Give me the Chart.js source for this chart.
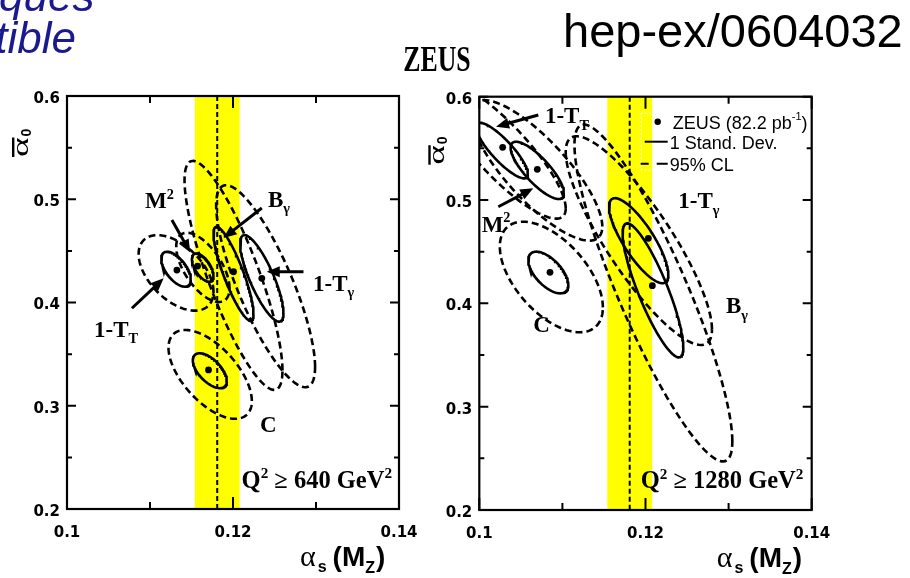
<!DOCTYPE html>
<html><head><meta charset="utf-8">
<script src="https://cdn.jsdelivr.net/npm/chart.js@4/dist/chart.umd.min.js"></script>
<style>
html,body{margin:0;padding:0;background:#fff}
body{width:910px;height:578px;position:relative;overflow:hidden}
canvas{position:absolute;top:0}
#c1{left:0}
#c2{left:420px}
#hdr{left:0;pointer-events:none}
</style></head>
<body>
<canvas id="c1" width="420" height="578" style="width:420px;height:578px"></canvas>
<canvas id="c2" width="490" height="578" style="width:490px;height:578px"></canvas>
<canvas id="hdr" width="910" height="578" style="width:910px;height:578px"></canvas>
<script>
// ---------------- data ----------------
const xTickLabels = [0.10, 0.12, 0.14];
const yTickLabels = [0.2, 0.3, 0.4, 0.5, 0.6];
const methods = ["1-T_T", "M²", "B_γ", "1-T_γ", "C"];
// world average alpha_s band and central value
const bandLow = 0.1154, bandHigh = 0.1208, worldAvg = 0.1181;

// Q² ≥ 640 GeV² : fitted points (order as in methods)
const as640 = [0.11324, 0.11573, 0.12006, 0.12347, 0.11705];
const a0640 = [0.4314, 0.4353, 0.4298, 0.4234, 0.3347];
// contours: [centre alpha_s, centre alpha0, half-width alpha_s, half-height alpha0, correlation]
const sd640 = [
  [0.11314, 0.43223, 0.00179, 0.01692, -0.60],
  [0.11635, 0.43384, 0.00130, 0.01370, -0.60],
  [0.12006, 0.42788, 0.00241, 0.04545, -0.85],
  [0.12347, 0.42337, 0.00261, 0.04190, -0.80],
  [0.11721, 0.33393, 0.00205, 0.01692, -0.60]];
const cl640 = [
  [0.11314, 0.42869, 0.00451, 0.03658, -0.50],
  [0.11637, 0.43400, 0.00321, 0.03352, -0.60],
  [0.12006, 0.42627, 0.00590, 0.11088, -0.83],
  [0.12393, 0.41579, 0.00596, 0.09782, -0.80],
  [0.11725, 0.33038, 0.00502, 0.04303, -0.60]];

// Q² ≥ 1280 GeV²
const as1280 = [0.10281, 0.10698, 0.12082, 0.12034, 0.10851];
const a01280 = [0.5510, 0.5297, 0.4171, 0.4629, 0.4300];
const sd1280 = [
  [0.10273, 0.5479, 0.00313, 0.0269, -0.85],
  [0.10698, 0.5287, 0.00321, 0.0277, -0.80],
  [0.12090, 0.41258, 0.00365, 0.06484, -0.85],
  [0.11918, 0.46065, 0.00357, 0.04113, -0.80],
  [0.10830, 0.42984, 0.00241, 0.02016, -0.60]];
const cl1280 = [
  [0.10270, 0.5480, 0.0077, 0.0660, -0.85],
  [0.10690, 0.5287, 0.0079, 0.0680, -0.80],
  [0.12095, 0.4100, 0.0095, 0.1630, -0.88],
  [0.11920, 0.4607, 0.0088, 0.1010, -0.85],
  [0.10867, 0.4255, 0.0062, 0.0535, -0.55]];

// annotation labels (data coordinates of text anchor)
const labels640 = [
  {parts:[{t:'M'},{t:'2',sup:1}], x:0.1094, y:0.4913},
  {parts:[{t:'B'},{t:'γ',sub:1}], x:0.12422, y:0.4928},
  {parts:[{t:'1-T'},{t:'γ',sub:1}], x:0.12964, y:0.4115},
  {parts:[{t:'1-T'},{t:'T',sub:1}], x:0.10325, y:0.3669},
  {parts:[{t:'C'}], x:0.12325, y:0.2749},
  {parts:[{t:'Q'},{t:'2',sup:1},{t:' ≥ 640 GeV'},{t:'2',sup:1}], x:0.13916, y:0.2201, right:1, big:1}];
const labels1280 = [
  {parts:[{t:'1-T'},{t:'T',sub:1}], x:0.1079, y:0.5742},
  {parts:[{t:'M'},{t:'2',sup:1}], x:0.10028, y:0.4694},
  {parts:[{t:'C'}], x:0.1065, y:0.3726},
  {parts:[{t:'1-T'},{t:'γ',sub:1}], x:0.12395, y:0.4919},
  {parts:[{t:'B'},{t:'γ',sub:1}], x:0.12969, y:0.3903},
  {parts:[{t:'Q'},{t:'2',sup:1},{t:' ≥ 1280 GeV'},{t:'2',sup:1}], x:0.1390, y:0.2210, right:1, big:1}];
// arrows [from x, from y, to x, to y]
const arrows640 = [[0.11264,0.4798,0.11485,0.4485],[0.12347,0.4915,0.11886,0.4625],
                   [0.12849,0.4298,0.12407,0.4298],[0.10782,0.3944,0.11164,0.4234]];
const arrows1280 = [[0.1071,0.5823,0.10201,0.5710],[0.10229,0.4935,0.10650,0.5113]];

// ---------------- helpers ----------------
function contour(e){
  const [cx,cy,sx,sy,r]=e, q=Math.sqrt(1-r*r), pts=[];
  for(let i=0;i<=144;i++){const t=2*Math.PI*i/144;
    pts.push({x:cx+sx*Math.cos(t), y:cy+sy*(r*Math.cos(t)+q*Math.sin(t))});}
  return pts;
}
const SERIF='"Liberation Serif","Times New Roman",serif';
const SANS='"Liberation Sans",Arial,sans-serif';
function richWidth(ctx, parts, size, fam, wt){
  let w=0; for(const p of parts){const s=(p.sub||p.sup)?size*0.62:size;
    ctx.font=`${wt} ${s}px ${fam}`; w+=ctx.measureText(p.t).width;} return w;
}
function rich(ctx, x, y, parts, size, fam, wt){
  let cx=x;
  for(const p of parts){
    const s=(p.sub||p.sup)?size*0.62:size;
    ctx.font=`${wt} ${s}px ${fam}`;
    const dy=p.sub?size*0.28:(p.sup?-size*0.40:0);
    ctx.fillText(p.t,cx,y+dy); cx+=ctx.measureText(p.t).width;
  }
  return cx;
}
function arrow(ctx,x1,y1,x2,y2){
  const a=Math.atan2(y2-y1,x2-x1), L=13, W=5.5;
  ctx.lineWidth=3; ctx.setLineDash([]);
  ctx.beginPath(); ctx.moveTo(x1,y1); ctx.lineTo(x2-L*0.7*Math.cos(a),y2-L*0.7*Math.sin(a)); ctx.stroke();
  ctx.beginPath(); ctx.moveTo(x2,y2);
  ctx.lineTo(x2-L*Math.cos(a)+W*Math.sin(a), y2-L*Math.sin(a)-W*Math.cos(a));
  ctx.lineTo(x2-L*Math.cos(a)-W*Math.sin(a), y2-L*Math.sin(a)+W*Math.cos(a));
  ctx.closePath(); ctx.fill();
}

function makePanel(id, cfg){
  const datasets=[];
  cfg.sd.forEach((e,i)=>datasets.push({label:methods[i]+' 1σ', data:contour(e), showLine:true,
    borderColor:'#000', borderWidth:2.6, pointRadius:0, fill:false, clip:0, order:2}));
  cfg.cl.forEach((e,i)=>datasets.push({label:methods[i]+' 95%', data:contour(e), showLine:true,
    borderColor:'#000', borderWidth:2.6, borderDash:[7,4], pointRadius:0, fill:false, clip:0, order:3}));
  datasets.push({label:'ZEUS', data:cfg.as.map((v,i)=>({x:v,y:cfg.a0[i]})), showLine:false,
    pointRadius:3.4, pointBackgroundColor:'#000', pointBorderWidth:0, order:1});

  const decor={
    id:'decor'+id,
    beforeDatasetsDraw(chart){
      const {ctx,chartArea:ca,scales:{x,y}}=chart;
      ctx.save();
      const b1=x.getPixelForValue(bandLow), b2=x.getPixelForValue(bandHigh);
      ctx.fillStyle='#ffff00'; ctx.fillRect(b1,ca.top,b2-b1,ca.bottom-ca.top);
      const wx=x.getPixelForValue(worldAvg);
      ctx.strokeStyle='#000'; ctx.lineWidth=2; ctx.setLineDash([5,3]);
      ctx.beginPath(); ctx.moveTo(wx,ca.top); ctx.lineTo(wx,ca.bottom); ctx.stroke();
      ctx.restore();
    },
    afterDatasetsDraw(chart){
      const {ctx,chartArea:ca,scales:{x,y}}=chart;
      ctx.save();
      ctx.strokeStyle='#000'; ctx.fillStyle='#000'; ctx.setLineDash([]);
      // ticks (inward, mirrored)
      ctx.lineWidth=2;
      for(let k=0;k<=4;k++){
        const v=0.10+0.01*k, px=x.getPixelForValue(v), L=(k%2===0)?12:7;
        ctx.beginPath(); ctx.moveTo(px,ca.bottom); ctx.lineTo(px,ca.bottom-L);
        ctx.moveTo(px,ca.top); ctx.lineTo(px,ca.top+L); ctx.stroke();
      }
      for(let k=0;k<=8;k++){
        const v=0.2+0.05*k, py=y.getPixelForValue(v), L=(k%2===0)?9:5;
        ctx.beginPath(); ctx.moveTo(ca.left,py); ctx.lineTo(ca.left+L,py);
        ctx.moveTo(ca.right,py); ctx.lineTo(ca.right-L,py); ctx.stroke();
      }
      ctx.lineWidth=2.2; ctx.strokeRect(ca.left,ca.top,ca.right-ca.left,ca.bottom-ca.top);
      // labels
      ctx.textBaseline='alphabetic'; ctx.textAlign='left';
      for(const l of cfg.labels){
        const sz=l.big?24.5:23;
        let px=x.getPixelForValue(l.x); const py=y.getPixelForValue(l.y);
        if(l.right) px-=richWidth(ctx,l.parts,sz,SERIF,'bold');
        rich(ctx,px,py,l.parts,sz,SERIF,'bold');
      }
      for(const a of cfg.arrows){
        arrow(ctx,x.getPixelForValue(a[0]),y.getPixelForValue(a[1]),x.getPixelForValue(a[2]),y.getPixelForValue(a[3]));
      }
      // legend
      if(cfg.legend){
        const lx=ca.right-139, ly=ca.top;
        ctx.strokeStyle='#fff'; ctx.lineWidth=1; ctx.setLineDash([2,2]);
        ctx.strokeRect(ca.right-170.5, ly+16.5, 160, 57);
        ctx.strokeStyle='#000'; ctx.setLineDash([]);
        ctx.beginPath(); ctx.arc(lx-15,ly+25,3.2,0,2*Math.PI); ctx.fill();
        ctx.textBaseline='middle';
        let ex=rich(ctx,lx,ly+27,[{t:'ZEUS (82.2 pb'}],18,SANS,'normal');
        ctx.font=`11px ${SANS}`; ctx.fillText('-1',ex,ly+20); ex+=ctx.measureText('-1').width;
        ctx.font=`18px ${SANS}`; ctx.fillText(')',ex,ly+27);
        ctx.lineWidth=2;
        ctx.beginPath(); ctx.moveTo(lx-28,ly+45); ctx.lineTo(lx-5,ly+45); ctx.stroke();
        ctx.fillText('1 Stand. Dev.',lx-3,ly+47);
        ctx.beginPath(); ctx.moveTo(lx-32,ly+67); ctx.lineTo(lx-24,ly+67);
        ctx.moveTo(lx-16,ly+67); ctx.lineTo(lx-5,ly+67); ctx.stroke();
        ctx.fillText('95% CL',lx-3,ly+69);
        ctx.textBaseline='alphabetic';
      }
      // x title
      {
        let tx=ca.right-cfg.xtOff, ty=ca.bottom+57;
        ctx.font=`30px ${SERIF}`; ctx.fillText('α',tx,ty); tx+=ctx.measureText('α').width+2;
        ctx.font=`bold 16px ${SANS}`; ctx.fillText('s',tx,ty+6); tx+=ctx.measureText('s').width+6;
        ctx.font=`bold 28px ${SANS}`; ctx.fillText('(M',tx,ty); tx+=ctx.measureText('(M').width;
        ctx.font=`bold 16px ${SANS}`; ctx.fillText('Z',tx,ty+7); tx+=ctx.measureText('Z').width+1;
        ctx.font=`bold 28px ${SANS}`; ctx.fillText(')',tx,ty);
      }
      // y title (rotated, overlined alpha with subscript 0)
      {
        ctx.translate(ca.left-cfg.ytX, ca.top+cfg.ytY); ctx.rotate(-Math.PI/2);
        ctx.save(); ctx.scale(1.55,1);
        ctx.font=`24px ${SERIF}`; ctx.fillText('α',0,0);
        const w=ctx.measureText('α').width; ctx.restore();
        const W=w*1.55;
        ctx.fillRect(0,-16,W,2.4);
        ctx.font=`bold 14px ${SANS}`; ctx.fillText('0',W+1,3);
      }
      ctx.restore();
    }
  };

  const noPad=s=>{s.paddingLeft=0;s.paddingRight=0;s.paddingTop=0;s.paddingBottom=0;};
  return new Chart(document.getElementById(id),{
    type:'scatter',
    data:{datasets},
    options:{
      responsive:false, animation:false, devicePixelRatio:1,
      layout:{padding:{top:cfg.padTop,right:cfg.padRight,left:0,bottom:0}},
      plugins:{legend:{display:false},tooltip:{enabled:false}},
      scales:{
        x:{type:'linear',min:0.10,max:0.14,
          afterBuildTicks(s){s.ticks=xTickLabels.map(v=>({value:v}));},
          ticks:{color:'#000',padding:15,maxRotation:0,autoSkip:false,
            font:{family:'"DejaVu Sans"',size:15,weight:'bold'},
            callback:v=>String(Math.round(v*100)/100)},
          grid:{display:false,drawTicks:false}, border:{display:false},
          afterFit(s){s.height=cfg.xH;noPad(s);}},
        y:{type:'linear',min:0.2,max:0.6,
          afterBuildTicks(s){s.ticks=yTickLabels.map(v=>({value:v}));},
          ticks:{color:'#000',padding:7,labelOffset:3,autoSkip:false,
            font:{family:'"DejaVu Sans"',size:15,weight:'bold'},
            callback:v=>String(Math.round(v*10)/10)},
          grid:{display:false,drawTicks:false}, border:{display:false},
          afterFit(s){s.width=cfg.yW;noPad(s);}}
      }
    },
    plugins:[decor]
  });
}

makePanel('c1',{sd:sd640,cl:cl640,as:as640,a0:a0640,labels:labels640,arrows:arrows640,
  legend:false,padTop:96,padRight:21,xH:69,yW:67,xtOff:99,ytX:39,ytY:61});
makePanel('c2',{sd:sd1280,cl:cl1280,as:as1280,a0:a01280,labels:labels1280,arrows:arrows1280,
  legend:true,padTop:96.7,padRight:98.3,xH:68,yW:59.3,xtOff:95,ytX:35,ytY:68});

// header texts
{
  const h=document.getElementById('hdr').getContext('2d');
  h.fillStyle='#1a1a8e';
  h.font=`italic 44px ${SANS}`; h.textAlign='left';
  h.fillText('ques',-1,11);
  h.textAlign='right'; h.fillText('compatible',76,53);
  h.fillStyle='#000'; h.textAlign='center';
  h.save(); h.translate(437,71); h.scale(0.86,1.22);
  h.font=`bold 30px ${SERIF}`; h.fillText('ZEUS',0,0); h.restore();
  h.textAlign='left'; h.font=`47px ${SANS}`; h.fillText('hep-ex/0604032',563,47);
}
</script>
</body></html>
